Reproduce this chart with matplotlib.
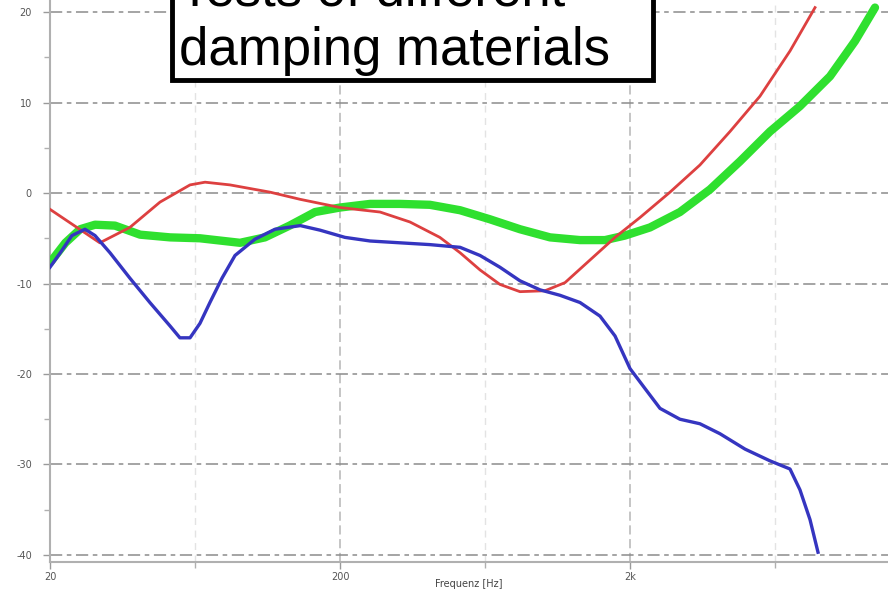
import matplotlib
matplotlib.use("Agg")
import matplotlib.pyplot as plt
from matplotlib.patches import Rectangle
import numpy as np

# ---- data ----
red_f = [20, 29.7, 37.7, 47.9, 60.8, 68.5, 83.5, 114.7, 146, 200, 275, 348.6, 442, 519, 608,
         712, 835, 1018, 1194, 1456, 1776, 2166, 2748, 3485, 4424, 5612, 7124, 8690]
red_db = [-1.8, -5.5, -3.8, -1.0, 0.9, 1.2, 0.9, 0.1, -0.7, -1.6, -2.1, -3.2, -4.9, -6.6, -8.5,
          -10.1, -10.9, -10.8, -9.9, -7.4, -4.9, -2.7, 0.1, 3.1, 6.8, 10.7, 15.7, 20.5]

green_f = [20, 22.6, 25.4, 28.6, 33.5, 40.9, 51.9, 65.8, 90.4, 110.2, 134, 164, 200, 254, 322,
           408.5, 519, 657.7, 835, 1060, 1345, 1640, 1921, 2345, 2973, 3775, 4788, 6078, 7710,
           9788, 11940, 13990]
green_db = [-7.7, -5.5, -4.0, -3.5, -3.6, -4.6, -4.9, -5.0, -5.5, -4.9, -3.6, -2.1, -1.6, -1.2,
            -1.2, -1.3, -1.9, -2.9, -4.0, -4.9, -5.2, -5.2, -4.7, -3.8, -2.1, 0.4, 3.5, 6.8, 9.6,
            12.9, 16.8, 20.5]

blue_f = [20, 21.7, 23.8, 26.4, 28.6, 32.2, 37.7, 44.2, 51.9, 56.1, 60.8, 65.8, 71.2, 78.4, 86.9,
          101.8, 119.4, 146, 170.6, 208, 254, 322, 408.5, 519, 608, 712, 835, 979, 1147, 1345,
          1576, 1776, 2000, 2252, 2538, 2973, 3485, 4085, 4984, 6078, 7124, 7710, 8352, 8898]
blue_db = [-8.2, -6.6, -4.7, -4.0, -4.7, -6.6, -9.4, -12.1, -14.7, -16.0, -16.0, -14.4, -12.1,
           -9.4, -6.9, -5.1, -4.0, -3.6, -4.1, -4.9, -5.3, -5.5, -5.7, -6.0, -6.9, -8.2, -9.7,
           -10.7, -11.3, -12.1, -13.6, -15.8, -19.4, -21.6, -23.8, -25.0, -25.5, -26.6, -28.3,
           -29.6, -30.5, -32.8, -36.1, -39.7]

x_ticks = [20, 200, 2000]
x_tick_labels = ["20", "200", "2k"]
y_ticks = [-40, -30, -20, -10, 0, 10, 20]
y_tick_labels = ["-40", "-30", "-20", "-10", "0", "10", "20"]
x_label = "Frequenz [Hz]"
title_lines = ["Tests of different", "damping materials"]

# ---- figure ----
W, H = 888, 597
fig = plt.figure(figsize=(W / 100, H / 100), dpi=100)
fig.patch.set_facecolor("white")

ax_left = 50 / W
ax_h_px = 562
ax = fig.add_axes([ax_left, 1 - ax_h_px / H, 1 - ax_left, ax_h_px / H])

ax.set_xscale("log")
ax.set_xlim(20, 20 * 10 ** ((W - 50) / 290))
ax.set_ylim(-40 - 7 / 8.975, 20 + 12 / 8.975)

ax.plot(green_f, green_db, color="#2fe02f", lw=6, solid_capstyle="round", zorder=3)
ax.plot(red_f, red_db, color="#dd4040", lw=2, zorder=4)
ax.plot(blue_f, blue_db, color="#3535c0", lw=2.4, zorder=5)

ax.set_xticks(x_ticks)
ax.set_xticklabels(x_tick_labels)
ax.set_xticks([20 * 10 ** 0.5, 200 * 10 ** 0.5, 2000 * 10 ** 0.5], minor=True)
ax.xaxis.set_minor_formatter(matplotlib.ticker.NullFormatter())
ax.set_yticks(y_ticks)
ax.set_yticklabels(y_tick_labels)
ax.set_yticks([-35, -25, -15, -5, 5, 15], minor=True)

ax.tick_params(axis="both", which="major", labelsize=7, colors="#9a9a9a",
               labelcolor="#555555", length=5, width=1, pad=2)
ax.tick_params(axis="y", which="major", pad=8)
ax.tick_params(axis="both", which="minor", length=4, width=1, colors="#b0b0b0")

ax.grid(True, axis="y", which="major", color="#8c8c8c", lw=1.1, ls=(0, (8, 3, 3, 3)))
ax.grid(True, axis="x", which="major", color="#b5b5b5", lw=1.1, ls=(0, (6, 3)))
ax.grid(True, axis="x", which="minor", color="#e3e3e3", lw=1.0, ls=(0, (5, 4)))
ax.set_axisbelow(True)

for s in ["top", "right"]:
    ax.spines[s].set_visible(False)
for s in ["left", "bottom"]:
    ax.spines[s].set_color("#b0b0b0")
    ax.spines[s].set_linewidth(1.5)

ax.set_xlabel(x_label, fontsize=7, color="#444444")
ax.xaxis.set_label_coords(0.5, -(579 - ax_h_px) / ax_h_px)

# ---- title box (partly cut off at top, as in the original) ----
box = Rectangle((172 / W, 1 - 80 / H), (653 - 172) / W, 100 / H, transform=fig.transFigure,
                facecolor="white", edgecolor="black", lw=3.5, zorder=10, clip_on=False)
fig.patches.append(box)
fig.text(179 / W, 1 - 5 / H, title_lines[0], fontsize=38, family="Liberation Sans",
         va="baseline", ha="left", color="black", zorder=11)
fig.text(179 / W, 1 - 65 / H, title_lines[1], fontsize=38, family="Liberation Sans",
         va="baseline", ha="left", color="black", zorder=11)

fig.savefig("out.png", dpi=100, facecolor="white")
